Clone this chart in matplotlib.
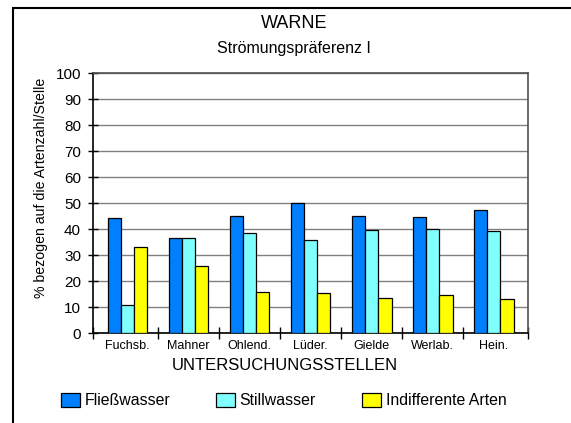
import matplotlib
matplotlib.use("Agg")
import matplotlib.pyplot as plt
from matplotlib.patches import Rectangle
import numpy as np

plt.rcParams['font.family'] = ['Liberation Sans', 'DejaVu Sans']

categories = ["Fuchsb.", "Mahner", "Ohlend.", "Lüder.", "Gielde", "Werlab.", "Hein."]
fliesswasser = [44.2, 36.8, 45.0, 50.0, 45.0, 44.6, 47.3]
stillwasser = [11.0, 36.8, 38.5, 35.8, 39.6, 40.1, 39.3]
indifferent = [33.1, 25.8, 15.8, 15.4, 13.6, 14.6, 13.1]
series_names = ["Fließwasser", "Stillwasser", "Indifferente Arten"]
colors = ["#0080FF", "#80FFFF", "#FFFF00"]
yticks = list(range(0, 101, 10))

W, H = 571, 423
fig = plt.figure(figsize=(W / 100, H / 100), dpi=100)
ax = fig.add_axes([92.5 / W, 1 - 333.3 / H, (528 - 92.5) / W, (333.3 - 73.3) / H])

x = np.arange(len(categories))
w = 0.217
handles = []
for k, (vals, col, name) in enumerate(zip([fliesswasser, stillwasser, indifferent], colors, series_names)):
    b = ax.bar(x + (k - 1) * w, vals, width=w, color=col, edgecolor="black",
               linewidth=0.9, label=name, zorder=3)
    handles.append(b)

ax.set_xlim(-0.574, 6.562)
ax.set_ylim(0, 100)
ax.set_yticks(yticks)
ax.yaxis.grid(True, color="#808080", linewidth=1.0)
ax.set_axisbelow(True)

ax.set_xticks(x)
ax.set_xticklabels(categories, fontsize=9)
ax.tick_params(axis="x", which="major", length=0, pad=4.5)
ax.set_xticks([-0.574] + [i + 0.5 for i in range(6)] + [6.562], minor=True)
ax.tick_params(axis="x", which="minor", direction="inout", length=8, width=1.0, color="black")
ax.tick_params(axis="y", direction="inout", length=6.5, width=1.0, pad=5.0, labelsize=11)

for s in ["left", "bottom"]:
    ax.spines[s].set_color("black")
    ax.spines[s].set_linewidth(1.2)
for s in ["top", "right"]:
    ax.spines[s].set_color("#505050")
    ax.spines[s].set_linewidth(1.2)

fig.text(293.7 / W, 1 - 24 / H, "WARNE", ha="center", va="center", fontsize=13)
fig.text(294 / W, 1 - 48.5 / H, "Strömungspräferenz I", ha="center", va="center", fontsize=11.5)
fig.text(41 / W, 1 - 188 / H, "% bezogen auf die Artenzahl/Stelle", rotation=90,
         ha="center", va="center", fontsize=10.2)
fig.text(284.5 / W, 1 - 365.5 / H, "UNTERSUCHUNGSSTELLEN", ha="center", va="center", fontsize=12)

fig.legend(handles=handles, labels=series_names, ncol=3, loc="center",
           bbox_to_anchor=(283.5 / W, 1 - 400.5 / H), frameon=False, fontsize=11.4,
           handlelength=1.2, handleheight=0.95, handletextpad=0.3, columnspacing=2.9,
           borderpad=0, borderaxespad=0)

fig.add_artist(Rectangle((13 / W, -0.2), 1.5, (1 - 8 / H) + 0.2, transform=fig.transFigure,
                         fill=False, edgecolor="black", linewidth=1.5))

fig.savefig("out.png", dpi=100, facecolor="white")
